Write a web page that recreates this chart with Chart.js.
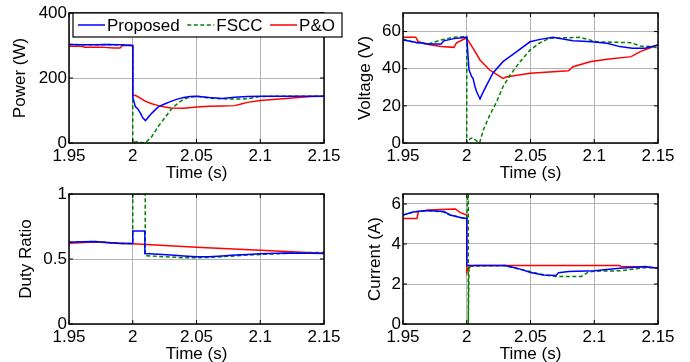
<!DOCTYPE html>
<html lang="en">
  <head>
    <meta charset="UTF-8" />
    <meta name="viewport" content="width=device-width, initial-scale=1.0" />
    <title>MPPT comparison</title>
    <style>
      body { margin: 0; width: 690px; height: 362px; overflow: hidden; background: #fff; }
      .panel { position: absolute; width: 345px; height: 190px; }
    </style>
  </head>
  <body>
    <div class="panel" style="left: 0; top: 0"><canvas id="powerChart"></canvas></div>
    <div class="panel" style="left: 345px; top: 0"><canvas id="voltageChart"></canvas></div>
    <div class="panel" style="left: 0; top: 181px"><canvas id="dutyChart"></canvas></div>
    <div class="panel" style="left: 345px; top: 181px"><canvas id="currentChart"></canvas></div>

    <script src="https://cdn.jsdelivr.net/npm/chart.js"></script>
    <script>
      const seriesNames = ["Proposed", "FSCC", "P&O"];
      const timeTicks = [1.95, 2, 2.05, 2.1, 2.15];

      // Power (W)
      const powerTimeProposed = [1.95, 1.96, 1.97, 1.98, 1.99, 2.0, 2.0, 2.002, 2.004, 2.006, 2.008, 2.01, 2.015, 2.02, 2.025, 2.03, 2.035, 2.04, 2.045, 2.05, 2.06, 2.07, 2.08, 2.09, 2.1, 2.12, 2.15];
      const powerProposed = [303, 302, 302, 303, 302, 300, 142, 112, 105, 92, 77, 69, 92, 111, 120, 128, 135, 140, 143, 144, 140, 137, 141, 143, 144, 144, 144];
      const powerTimeFscc = [1.95, 1.97, 1.98, 1.99, 2.0, 2.0, 2.002, 2.004, 2.006, 2.008, 2.01, 2.015, 2.02, 2.025, 2.03, 2.035, 2.04, 2.045, 2.05, 2.06, 2.07, 2.08, 2.09, 2.1, 2.12, 2.15];
      const powerFscc = [303, 302, 303, 302, 300, 0, 3, 4, 2, 0, 1, 20, 51, 77, 103, 121, 135, 141, 144, 138, 136, 135, 136, 143, 144, 144];
      const powerTimePo = [1.95, 1.96, 1.962, 1.975, 1.985, 1.99, 1.992, 2.0, 2.0, 2.002, 2.006, 2.01, 2.015, 2.02, 2.025, 2.03, 2.04, 2.05, 2.06, 2.07, 2.08, 2.085, 2.09, 2.1, 2.11, 2.12, 2.13, 2.14, 2.15];
      const powerPo = [298, 298, 295, 295, 292, 292, 300, 300, 145, 147, 138, 128, 121, 115, 111, 108, 107, 111, 113, 114, 115, 120, 125, 131, 134, 137, 140, 143, 144];

      // Voltage (V)
      const voltTimeProposed = [1.95, 1.96, 1.97, 1.98, 1.982, 1.99, 2.0, 2.0018, 2.0039, 2.0049, 2.0065, 2.0078, 2.0104, 2.0117, 2.0156, 2.0206, 2.0284, 2.0392, 2.0496, 2.0575, 2.0676, 2.0833, 2.095, 2.1, 2.11, 2.12, 2.13, 2.14, 2.15];
      const voltProposed = [55.5, 54.2, 53.3, 53.3, 55, 56.2, 57, 39.3, 35.7, 34.8, 30.3, 27.6, 23.7, 25.8, 31.2, 37.7, 43.8, 49.2, 54.5, 55.8, 56.9, 55.1, 54.6, 54.4, 53.7, 51.9, 51, 51, 52.8];
      const voltTimeFscc = [1.95, 1.96, 1.97, 1.98, 1.99, 2.0, 2.0, 2.003, 2.005, 2.007, 2.01, 2.013, 2.018, 2.0235, 2.0284, 2.034, 2.0418, 2.0496, 2.0575, 2.065, 2.0888, 2.102, 2.129, 2.136, 2.146, 2.15];
      const voltFscc = [55.9, 54, 53.3, 55.5, 57, 57.3, 0, 2.5, 2.7, 1.5, 0, 7, 15, 22.2, 30.3, 36.6, 43.8, 50, 54, 56.4, 56.9, 54.5, 54, 52.2, 51.9, 51];
      const voltTimePo = [1.95, 1.96, 1.962, 1.97, 1.98, 1.99, 1.992, 1.998, 2.0, 2.005, 2.0104, 2.018, 2.0284, 2.031, 2.0496, 2.0797, 2.0834, 2.0967, 2.1098, 2.129, 2.136, 2.15];
      const voltPo = [57, 57, 54.5, 53, 52, 51.5, 54, 56, 56.4, 51, 44.7, 39.3, 34.8, 35.5, 37.5, 38.9, 41.1, 43.8, 45.1, 46.5, 49.2, 52.8];

      // Duty ratio
      const dutyTimeProposed = [1.95, 1.96, 1.97, 1.98, 1.99, 2.0, 2.0, 2.0095, 2.0095, 2.02, 2.03, 2.04, 2.05, 2.06, 2.07, 2.08, 2.09, 2.1, 2.12, 2.14, 2.15];
      const dutyProposed = [0.628, 0.632, 0.635, 0.627, 0.62, 0.62, 0.715, 0.715, 0.542, 0.536, 0.53, 0.524, 0.518, 0.518, 0.524, 0.53, 0.535, 0.54, 0.546, 0.544, 0.543];
      const dutyTimeFscc = [1.95, 1.96, 1.97, 1.98, 1.99, 2.0, 2.0, 2.0098, 2.0098, 2.02, 2.03, 2.04, 2.05, 2.06, 2.07, 2.08, 2.09, 2.1, 2.12, 2.14, 2.15];
      const dutyFscc = [0.628, 0.632, 0.635, 0.627, 0.62, 0.62, 1.0, 1.0, 0.525, 0.52, 0.515, 0.51, 0.51, 0.512, 0.518, 0.524, 0.53, 0.535, 0.543, 0.55, 0.551];
      const dutyTimePo = [1.95, 1.97, 1.99, 2.0, 2.05, 2.1, 2.15];
      const dutyPo = [0.622, 0.63, 0.622, 0.618, 0.59, 0.567, 0.544];

      // Current (A)
      const currTimeProposed = [1.95, 1.958, 1.969, 1.982, 1.987, 1.995, 2.0, 2.0, 2.002, 2.03, 2.04, 2.05, 2.06, 2.07, 2.072, 2.08, 2.1, 2.12, 2.14, 2.15];
      const currProposed = [5.45, 5.6, 5.68, 5.62, 5.45, 5.33, 5.28, 2.95, 2.92, 2.92, 2.78, 2.58, 2.45, 2.42, 2.56, 2.62, 2.66, 2.79, 2.87, 2.79];
      const currTimeFscc = [1.95, 1.958, 1.969, 1.982, 1.987, 1.995, 2.0, 2.0012, 2.0012, 2.0018, 2.03, 2.04, 2.05, 2.06, 2.07, 2.09, 2.095, 2.1, 2.12, 2.13, 2.14, 2.15];
      const currFscc = [5.45, 5.6, 5.67, 5.6, 5.45, 5.33, 5.25, 7, 0, 2.9, 2.92, 2.76, 2.62, 2.46, 2.37, 2.38, 2.58, 2.64, 2.66, 2.74, 2.82, 2.8];
      const currTimePo = [1.95, 1.961, 1.962, 1.97, 1.98, 1.991, 1.995, 2.0, 2.0, 2.001, 2.003, 2.006, 2.12, 2.121, 2.14, 2.15];
      const currPo = [5.28, 5.28, 5.62, 5.7, 5.72, 5.75, 5.57, 5.45, 2.6, 2.75, 2.88, 2.92, 2.92, 2.88, 2.85, 2.8];

      const colors = ["#0000ff", "#008000", "#ff0000"];
      const dashes = [[], [4, 2.5], []];

      Chart.defaults.font.family = '"Liberation Sans", Arial, sans-serif';
      Chart.defaults.font.size = 17;
      Chart.defaults.color = "#000";

      const pts = (t, v) => t.map((x, i) => ({ x, y: v[i] }));

      // black box around plot area with inward ticks, like matlab
      const frame = {
        id: "frame",
        afterDatasetsDraw(chart) {
          const { ctx, chartArea: a, scales } = chart;
          ctx.save();
          ctx.strokeStyle = "#000";
          ctx.lineWidth = 1;
          ctx.beginPath();
          scales.x.ticks.forEach((t) => {
            const px = scales.x.getPixelForValue(t.value);
            ctx.moveTo(px, a.bottom); ctx.lineTo(px, a.bottom - 4);
            ctx.moveTo(px, a.top); ctx.lineTo(px, a.top + 4);
          });
          scales.y.ticks.forEach((t) => {
            const py = scales.y.getPixelForValue(t.value);
            ctx.moveTo(a.left, py); ctx.lineTo(a.left + 4, py);
            ctx.moveTo(a.right, py); ctx.lineTo(a.right - 4, py);
          });
          ctx.stroke();
          ctx.lineWidth = 1.5;
          ctx.strokeRect(a.left, a.top, a.right - a.left, a.bottom - a.top);
          ctx.restore();
        },
      };

      const legendBox = {
        id: "legendBox",
        afterDraw(chart) {
          const { ctx, chartArea: a } = chart;
          const left = a.left + 4, top = a.top, w = 269, h = 24;
          ctx.save();
          ctx.fillStyle = "#fff";
          ctx.fillRect(left, top, w, h);
          ctx.strokeStyle = "#000";
          ctx.lineWidth = 1.2;
          ctx.strokeRect(left, top, w, h);
          ctx.font = '17px "Liberation Sans", Arial, sans-serif';
          ctx.textBaseline = "middle";
          ctx.fillStyle = "#000";
          let x = left + 5;
          const y = top + h / 2;
          chart.data.datasets.forEach((ds) => {
            ctx.strokeStyle = ds.borderColor;
            ctx.lineWidth = 1.5;
            ctx.setLineDash(ds.borderDash || []);
            ctx.beginPath();
            ctx.moveTo(x, y); ctx.lineTo(x + 27, y);
            ctx.stroke();
            ctx.setLineDash([]);
            ctx.fillText(ds.label, x + 29, y + 1);
            x += 29 + ctx.measureText(ds.label).width + 7.5;
          });
          ctx.restore();
        },
      };

      function makeChart(id, cfg) {
        const datasets = cfg.series.map((s, i) => ({
          label: seriesNames[i],
          data: pts(s[0], s[1]),
          borderColor: colors[i],
          borderDash: dashes[i],
          borderWidth: 1.5,
          pointRadius: 0,
          tension: 0,
          fill: false,
        }));
        return new Chart(document.getElementById(id), {
          type: "line",
          data: { datasets },
          plugins: cfg.legend ? [frame, legendBox] : [frame],
          options: {
            responsive: true,
            maintainAspectRatio: false,
            animation: false,
            events: [],
            layout: { padding: { left: 0, top: 13, right: cfg.rightPad, bottom: 0 } },
            plugins: { legend: { display: false }, tooltip: { enabled: false } },
            scales: {
              x: {
                type: "linear",
                min: 1.95,
                max: 2.15,
                afterBuildTicks: (s) => { s.ticks = timeTicks.map((v) => ({ value: v })); },
                afterFit: (s) => { s.height = 47; },
                ticks: { autoSkip: false, maxRotation: 0, padding: 3, callback: (v) => String(+v.toFixed(2)) },
                grid: { color: "#b4b4b4", drawTicks: false },
                border: { display: false },
                title: { display: true, text: "Time (s)", padding: { top: 0, bottom: 6 } },
              },
              y: {
                type: "linear",
                min: 0,
                max: cfg.yMax,
                afterBuildTicks: (s) => { s.ticks = cfg.yTicks.map((v) => ({ value: v })); },
                afterFit: (s) => { s.width = cfg.leftWidth; },
                ticks: { padding: 2, callback: (v) => String(v) },
                grid: { color: "#b4b4b4", drawTicks: false },
                border: { display: false },
                title: { display: true, text: cfg.yLabel, padding: { top: cfg.titlePad, bottom: 0 } },
              },
            },
          },
        });
      }

      makeChart("powerChart", {
        yLabel: "Power (W)", yMax: 400, yTicks: [0, 200, 400], leftWidth: 69, rightPad: 21, titlePad: 10, legend: true,
        series: [[powerTimeProposed, powerProposed], [powerTimeFscc, powerFscc], [powerTimePo, powerPo]],
      });
      makeChart("voltageChart", {
        yLabel: "Voltage (V)", yMax: 70, yTicks: [0, 20, 40, 60], leftWidth: 58, rightPad: 32, titlePad: 10,
        series: [[voltTimeProposed, voltProposed], [voltTimeFscc, voltFscc], [voltTimePo, voltPo]],
      });
      makeChart("dutyChart", {
        yLabel: "Duty Ratio", yMax: 1, yTicks: [0, 0.5, 1], leftWidth: 69, rightPad: 21, titlePad: 16,
        series: [[dutyTimeProposed, dutyProposed], [dutyTimeFscc, dutyFscc], [dutyTimePo, dutyPo]],
      });
      makeChart("currentChart", {
        yLabel: "Current (A)", yMax: 6.5, yTicks: [0, 2, 4, 6], leftWidth: 58, rightPad: 32, titlePad: 20,
        series: [[currTimeProposed, currProposed], [currTimeFscc, currFscc], [currTimePo, currPo]],
      });
    </script>
  </body>
</html>
